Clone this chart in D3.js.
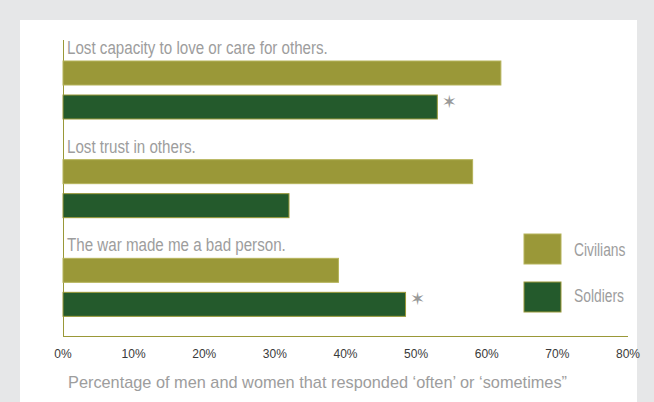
<!DOCTYPE html>
<html><head><meta charset="utf-8">
<script src="https://cdn.jsdelivr.net/npm/d3@7"></script>
<style>html,body{margin:0;padding:0;background:#e6e7e8;}svg{display:block;}</style>
</head><body>
<svg id="c" width="654" height="402"></svg>
<script>
const categories = ["Lost capacity to love or care for others.", "Lost trust in others.", "The war made me a bad person."];
const seriesNames = ["Civilians", "Soldiers"];
const civilians = [62, 58, 39];
const soldiers = [53, 32, 48.5];
const significant = [true, false, true];
const ticks = [0, 10, 20, 30, 40, 50, 60, 70, 80];
const axisTitle = "Percentage of men and women that responded ‘often’ or ‘sometimes”";

const colors = {Civilians: "#9a9838", Soldiers: "#245a2c"};
const svg = d3.select("#c");
svg.append("rect").attr("x", 0).attr("y", 0).attr("width", 654).attr("height", 402).attr("fill", "#e6e7e8");
svg.append("rect").attr("x", 20).attr("y", 20).attr("width", 617).attr("height", 382).attr("fill", "#fff");

const x = d3.scaleLinear().domain([0, 80]).range([63, 628]);
const groupY = d3.scaleBand().domain(categories).range([40, 336]);
const font = "'Liberation Sans',Arial,sans-serif";
function squeeze(factor) {
  return sel => sel.each(function() {
    const w = this.getComputedTextLength();
    d3.select(this).attr("textLength", w * factor).attr("lengthAdjust", "spacingAndGlyphs");
  });
}

svg.append("line").attr("x1", 63.5).attr("x2", 63.5).attr("y1", 40).attr("y2", 336).attr("stroke", "#9a9838").attr("stroke-width", 1);
svg.append("line").attr("x1", 63).attr("x2", 628).attr("y1", 336.5).attr("y2", 336.5).attr("stroke", "#9a9838").attr("stroke-width", 1);

const g = svg.selectAll("g.grp").data(categories).join("g").attr("class", "grp")
  .attr("transform", d => `translate(0,${groupY(d)})`);
g.append("text").attr("x", 67).attr("y", 14).text(d => d)
  .attr("font-family", font).attr("font-size", 17.5).attr("fill", "#9d9d9d").call(squeeze(0.865));
g.append("rect").attr("x", x(0)).attr("y", 21).attr("height", 24)
  .attr("width", (d, i) => x(civilians[i]) - x(0))
  .attr("fill", colors.Civilians).attr("stroke", "#b5b35a").attr("stroke-width", 1);
g.append("rect").attr("x", x(0)).attr("y", 55).attr("height", 24)
  .attr("width", (d, i) => x(soldiers[i]) - x(0))
  .attr("fill", colors.Soldiers).attr("stroke", "#9a9838").attr("stroke-width", 1);
g.filter((d, i) => significant[i]).append("text")
  .attr("x", d => x(soldiers[categories.indexOf(d)]) + 12).attr("y", 68)
  .attr("text-anchor", "middle").attr("font-family", "DejaVu Sans, sans-serif").attr("font-size", 18)
  .attr("fill", "#999").text("✶");

svg.selectAll("text.tick").data(ticks).join("text").attr("class", "tick")
  .attr("x", d => x(d)).attr("y", 358).attr("text-anchor", "middle")
  .attr("font-family", font).attr("font-size", 12).attr("fill", "#3a3a3a")
  .text(d => d + "%");

svg.append("text").attr("x", 68).attr("y", 388).text(axisTitle)
  .attr("font-family", font).attr("font-size", 17).attr("fill", "#9d9d9d")
  .attr("textLength", 499).attr("lengthAdjust", "spacingAndGlyphs");

const lg = svg.selectAll("g.lg").data(seriesNames).join("g").attr("class", "lg")
  .attr("transform", (d, i) => `translate(524,${234 + i * 48})`);
lg.append("rect").attr("width", 37).attr("height", 30).attr("fill", d => colors[d])
  .attr("stroke", d => d === "Civilians" ? "#b5b35a" : "#9a9838");
lg.append("text").attr("x", 50).attr("y", (d, i) => i === 0 ? 22 : 20).text(d => d)
  .attr("font-family", font).attr("font-size", 17.5).attr("fill", "#9d9d9d").call(squeeze(0.79));
</script>
</body></html>
